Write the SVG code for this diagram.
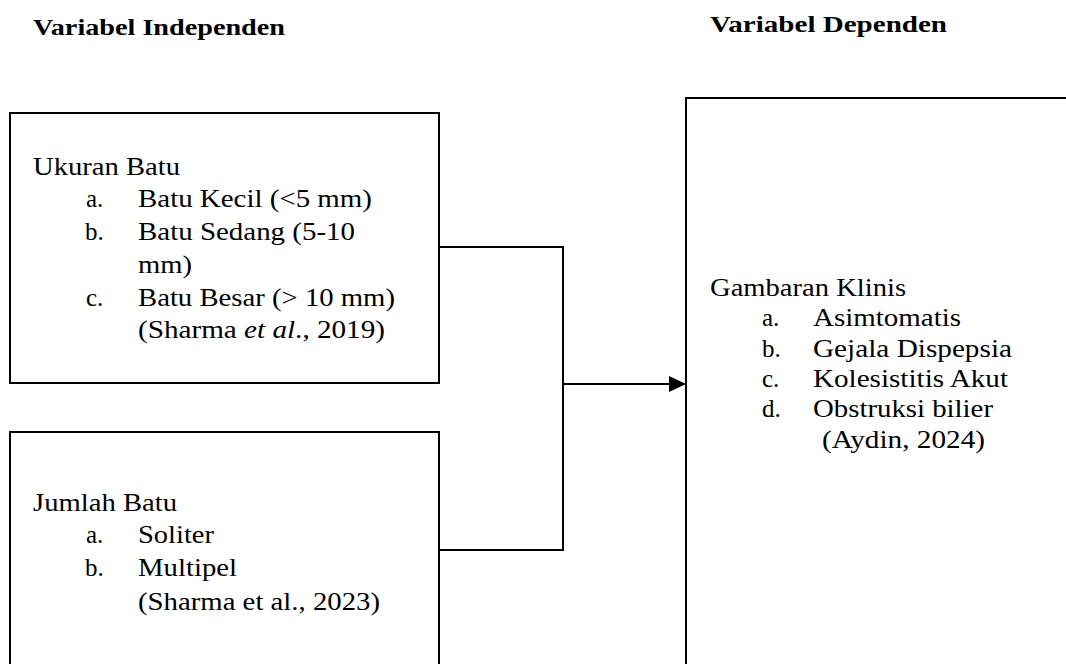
<svg xmlns="http://www.w3.org/2000/svg" width="1066" height="664" viewBox="0 0 1066 664">
<style>
.t{font-family:'Liberation Serif','DejaVu Serif',serif;font-size:25px;fill:#000}
.h{font-family:'Liberation Serif','DejaVu Serif',serif;font-size:24px;font-weight:bold;fill:#000}
.box{fill:#fff;stroke:#000;stroke-width:2}
.ln{fill:none;stroke:#000;stroke-width:2}
</style>
<defs>
<marker id="arr" markerWidth="17" markerHeight="16" refX="17" refY="8" orient="auto" markerUnits="userSpaceOnUse">
<path d="M0,0 L17,8 L0,16 Z" fill="#000"/>
</marker>
</defs>
<rect width="1066" height="664" fill="#fff"/>
<g font-family="Liberation Serif, DejaVu Serif, serif">
<text class="h" x="33" y="35" textLength="252" lengthAdjust="spacingAndGlyphs">Variabel Independen</text>
<text class="h" x="710" y="32" textLength="237" lengthAdjust="spacingAndGlyphs">Variabel Dependen</text>
</g>

<g id="connectors">
<path class="ln" d="M439,247 H563 V550 H439"/>
<path class="ln" d="M563,384 H686" marker-end="url(#arr)"/>
</g>

<g id="ukuran-batu" font-family="Liberation Serif, DejaVu Serif, serif">
<rect class="box" x="10" y="113" width="429" height="270"/>
<text class="t" x="33" y="175" textLength="147" lengthAdjust="spacingAndGlyphs">Ukuran Batu</text>
<text class="t" x="86" y="207">a.</text>
<text class="t" x="138" y="207" textLength="234" lengthAdjust="spacingAndGlyphs">Batu Kecil (&lt;5 mm)</text>
<text class="t" x="85" y="240">b.</text>
<text class="t" x="138" y="240" textLength="217" lengthAdjust="spacingAndGlyphs">Batu Sedang (5-10</text>
<text class="t" x="138" y="273" textLength="54" lengthAdjust="spacingAndGlyphs">mm)</text>
<text class="t" x="86" y="306">c.</text>
<text class="t" x="138" y="306" textLength="257" lengthAdjust="spacingAndGlyphs">Batu Besar (&gt; 10 mm)</text>
<text class="t" x="138" y="338" textLength="247" lengthAdjust="spacingAndGlyphs">(Sharma <tspan font-style="italic">et al</tspan>., 2019)</text>
</g>

<g id="jumlah-batu" font-family="Liberation Serif, DejaVu Serif, serif">
<rect class="box" x="10" y="432" width="429" height="260"/>
<text class="t" x="33" y="511" textLength="144" lengthAdjust="spacingAndGlyphs">Jumlah Batu</text>
<text class="t" x="86" y="543">a.</text>
<text class="t" x="138" y="543" textLength="76" lengthAdjust="spacingAndGlyphs">Soliter</text>
<text class="t" x="85" y="576">b.</text>
<text class="t" x="138" y="576" textLength="99" lengthAdjust="spacingAndGlyphs">Multipel</text>
<text class="t" x="138" y="610" textLength="242" lengthAdjust="spacingAndGlyphs">(Sharma et al., 2023)</text>
</g>

<g id="gambaran-klinis" font-family="Liberation Serif, DejaVu Serif, serif">
<rect class="box" x="686" y="98" width="420" height="600"/>
<text class="t" x="710" y="296" textLength="196" lengthAdjust="spacingAndGlyphs">Gambaran Klinis</text>
<text class="t" x="762" y="326">a.</text>
<text class="t" x="813" y="326" textLength="148" lengthAdjust="spacingAndGlyphs">Asimtomatis</text>
<text class="t" x="762" y="357">b.</text>
<text class="t" x="813" y="357" textLength="199" lengthAdjust="spacingAndGlyphs">Gejala Dispepsia</text>
<text class="t" x="762" y="387">c.</text>
<text class="t" x="813" y="387" textLength="195" lengthAdjust="spacingAndGlyphs">Kolesistitis Akut</text>
<text class="t" x="762" y="417">d.</text>
<text class="t" x="813" y="417" textLength="180" lengthAdjust="spacingAndGlyphs">Obstruksi bilier</text>
<text class="t" x="822" y="448" textLength="163" lengthAdjust="spacingAndGlyphs">(Aydin, 2024)</text>
</g>
</svg>
